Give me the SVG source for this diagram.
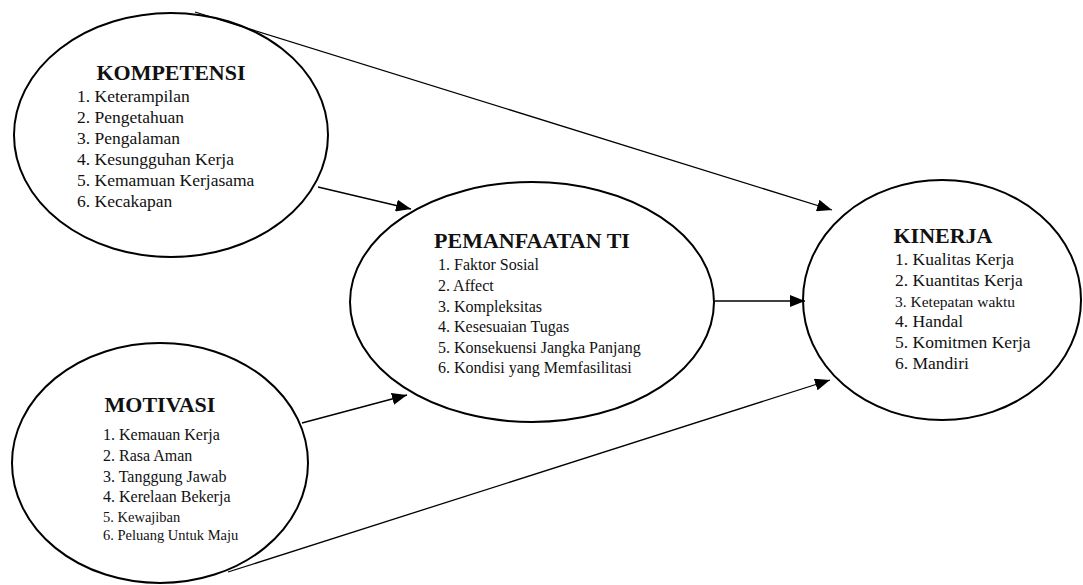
<svg xmlns="http://www.w3.org/2000/svg" width="1083" height="585" viewBox="0 0 1083 585">
<defs>
<marker id="ah" markerUnits="userSpaceOnUse" markerWidth="16" markerHeight="12" refX="15" refY="6" orient="auto">
<path d="M0,0 L15,6 L0,12 z" fill="#000"/>
</marker>
<style>
.node{fill:#fff;stroke:#000;stroke-width:2}
.h{font-family:"Liberation Serif","Times New Roman",serif;font-weight:bold;font-size:22px;text-anchor:middle;fill:#111}
.t{font-family:"Liberation Serif","Times New Roman",serif;font-size:16px;fill:#111}
.conn line{stroke:#000;stroke-width:1.3;marker-end:url(#ah)}
</style>
</defs>
<rect width="1083" height="585" fill="#fff"/>
<g id="kompetensi">
<ellipse class="node" cx="171" cy="135" rx="157" ry="122"/>
<text class="h" x="171" y="80">KOMPETENSI</text>
<g class="t" style="font-size:17.5px">
<text x="77" y="102">1. Keterampilan</text>
<text x="77" y="123">2. Pengetahuan</text>
<text x="77" y="144">3. Pengalaman</text>
<text x="77" y="165">4. Kesungguhan Kerja</text>
<text x="77" y="186">5. Kemamuan Kerjasama</text>
<text x="77" y="207">6. Kecakapan</text>
</g>
</g>
<g id="motivasi">
<ellipse class="node" cx="160" cy="463" rx="148" ry="120"/>
<text class="h" x="160" y="412">MOTIVASI</text>
<g class="t">
<text x="103" y="440">1. Kemauan Kerja</text>
<text x="103" y="461">2. Rasa Aman</text>
<text x="103" y="482">3. Tanggung Jawab</text>
<text x="103" y="502">4. Kerelaan Bekerja</text>
<text x="103" y="522" style="font-size:14.5px">5. Kewajiban</text>
<text x="103" y="540" style="font-size:14.5px">6. Peluang Untuk Maju</text>
</g>
</g>
<g id="pemanfaatan">
<ellipse class="node" cx="532" cy="302" rx="182" ry="120"/>
<text class="h" x="532" y="248">PEMANFAATAN TI</text>
<g class="t">
<text x="438" y="270">1. Faktor Sosial</text>
<text x="438" y="291">2. Affect</text>
<text x="438" y="312">3. Kompleksitas</text>
<text x="438" y="332">4. Kesesuaian Tugas</text>
<text x="438" y="353">5. Konsekuensi Jangka Panjang</text>
<text x="438" y="373">6. Kondisi yang Memfasilitasi</text>
</g>
</g>
<g id="kinerja">
<ellipse class="node" cx="942" cy="300" rx="139" ry="120"/>
<text class="h" x="943" y="243">KINERJA</text>
<g class="t" style="font-size:17.5px">
<text x="895" y="265">1. Kualitas Kerja</text>
<text x="895" y="286">2. Kuantitas Kerja</text>
<text x="895" y="307" style="font-size:15.5px">3. Ketepatan waktu</text>
<text x="895" y="327">4. Handal</text>
<text x="895" y="348">5. Komitmen Kerja</text>
<text x="895" y="369">6. Mandiri</text>
</g>
</g>
<g id="connectors" class="conn">
<line x1="195" y1="12" x2="832" y2="210"/>
<line x1="318" y1="187" x2="411" y2="209"/>
<line x1="302" y1="423" x2="407" y2="395"/>
<line x1="715" y1="301" x2="805" y2="301"/>
<line x1="228" y1="572" x2="830" y2="380"/>
</g>
</svg>
